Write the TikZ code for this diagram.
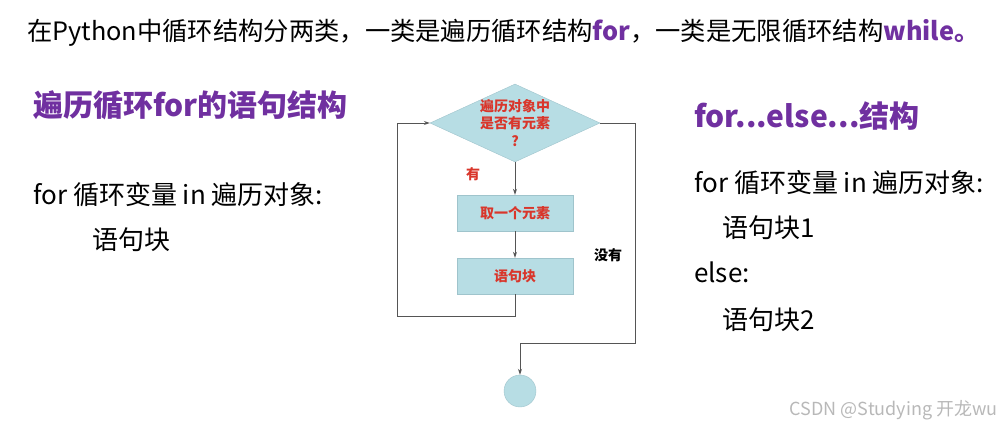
\documentclass[tikz,border=0pt]{standalone}
\usepackage{fontspec}
\setmainfont{Noto Sans CJK SC}
\usepackage{xcolor}
\usetikzlibrary{shapes,arrows,positioning,calc,arrows.meta}
\definecolor{hlpurple}{HTML}{7030A0}
\definecolor{boxfill}{HTML}{B7DDE4}
\definecolor{boxline}{HTML}{9FC4CC}
\definecolor{flowred}{HTML}{D9362B}
\definecolor{flowline}{HTML}{555555}
\tikzset{
    flowbox/.style={draw=boxline, fill=boxfill, minimum width=116pt, minimum height=36pt, inner sep=0pt,
        font=\fontsize{14}{16}\selectfont\bfseries, text=flowred},
    flowarrow/.style={draw=flowline, line width=0.9pt, -{Stealth[length=6pt,width=4pt]}},
    flowlink/.style={draw=flowline, line width=0.9pt},
    headtext/.style={anchor=west, inner sep=0pt, text=hlpurple, font=\fontsize{30}{34}\selectfont\bfseries},
    codetext/.style={anchor=west, inner sep=0pt, font=\fontsize{26}{30}\selectfont}
}
\begin{document}
\begin{tikzpicture}[x=1pt, y=-1pt]
    \useasboundingbox (0,0) rectangle (1003,428);

    % title line
    \node [anchor=west, inner sep=0pt, font=\fontsize{25.3}{30}\selectfont] (title) at (27,33)
        {在Python中循环结构分两类，一类是遍历循环结构\textcolor{hlpurple}{\bfseries for}，一类是无限循环结构\textcolor{hlpurple}{\bfseries while。}};

    % left column
    \node [headtext] (lhead) at (33,105) {遍历循环for的语句结构};
    \node [codetext] (lfor) at (33,195) {for 循环变量 in 遍历对象:};
    \node [codetext] (lbody) at (92,240) {语句块};

    % right column
    \node [headtext] (rhead) at (694,116) {for...else...结构};
    \node [codetext] (rfor) at (694,183) {for 循环变量 in 遍历对象:};
    \node [codetext] (rbody1) at (722,228) {语句块1};
    \node [codetext] (relse) at (694,272) {else:};
    \node [codetext] (rbody2) at (722,320) {语句块2};

    % flow chart
    \node [diamond, draw=boxline, fill=boxfill, minimum width=170pt, minimum height=78pt, inner sep=0pt] (cond) at (515,123) {};
    \node [align=center, inner sep=0pt, text=flowred, font=\fontsize{14}{17.5}\selectfont\bfseries] (condtext) at (cond.center)
        {遍历对象中\\是否有元素\\?};
    \node [flowbox] (take) at (515,213) {取一个元素};
    \node [flowbox] (body) at (515,276) {语句块};
    \node [circle, draw=boxline, fill=boxfill, minimum size=32pt, inner sep=0pt] (stop) at (520,391) {};

    \coordinate (loopa) at (515,316);
    \coordinate (loopb) at (397,316);
    \coordinate (loopc) at (397,123);
    \coordinate (exita) at (635,123);
    \coordinate (exitb) at (635,343);
    \coordinate (exitc) at (520,343);

    \draw [flowarrow] (cond.south) -- (take.north);
    \draw [flowarrow] (take.south) -- (body.north);
    \draw [flowlink] (body.south) -- (loopa) -- (loopb) -- (loopc);
    \draw [flowarrow] (loopc) -- (cond.west);
    \draw [flowlink] (cond.east) -- (exita) -- (exitb) -- (exitc);
    \draw [flowarrow] (exitc) -- (stop.north);

    \node [text=flowred, font=\fontsize{14}{16}\selectfont\bfseries] (yes) at (473,174) {有};
    \node [font=\fontsize{14}{16}\selectfont\bfseries] (no) at (608,255) {没有};

    % watermark
    \node [anchor=east, inner sep=0pt, text=black!28, font=\fontsize{18}{20}\selectfont] (mark) at (998,410) {CSDN @Studying 开龙wu};
\end{tikzpicture}
\end{document}
